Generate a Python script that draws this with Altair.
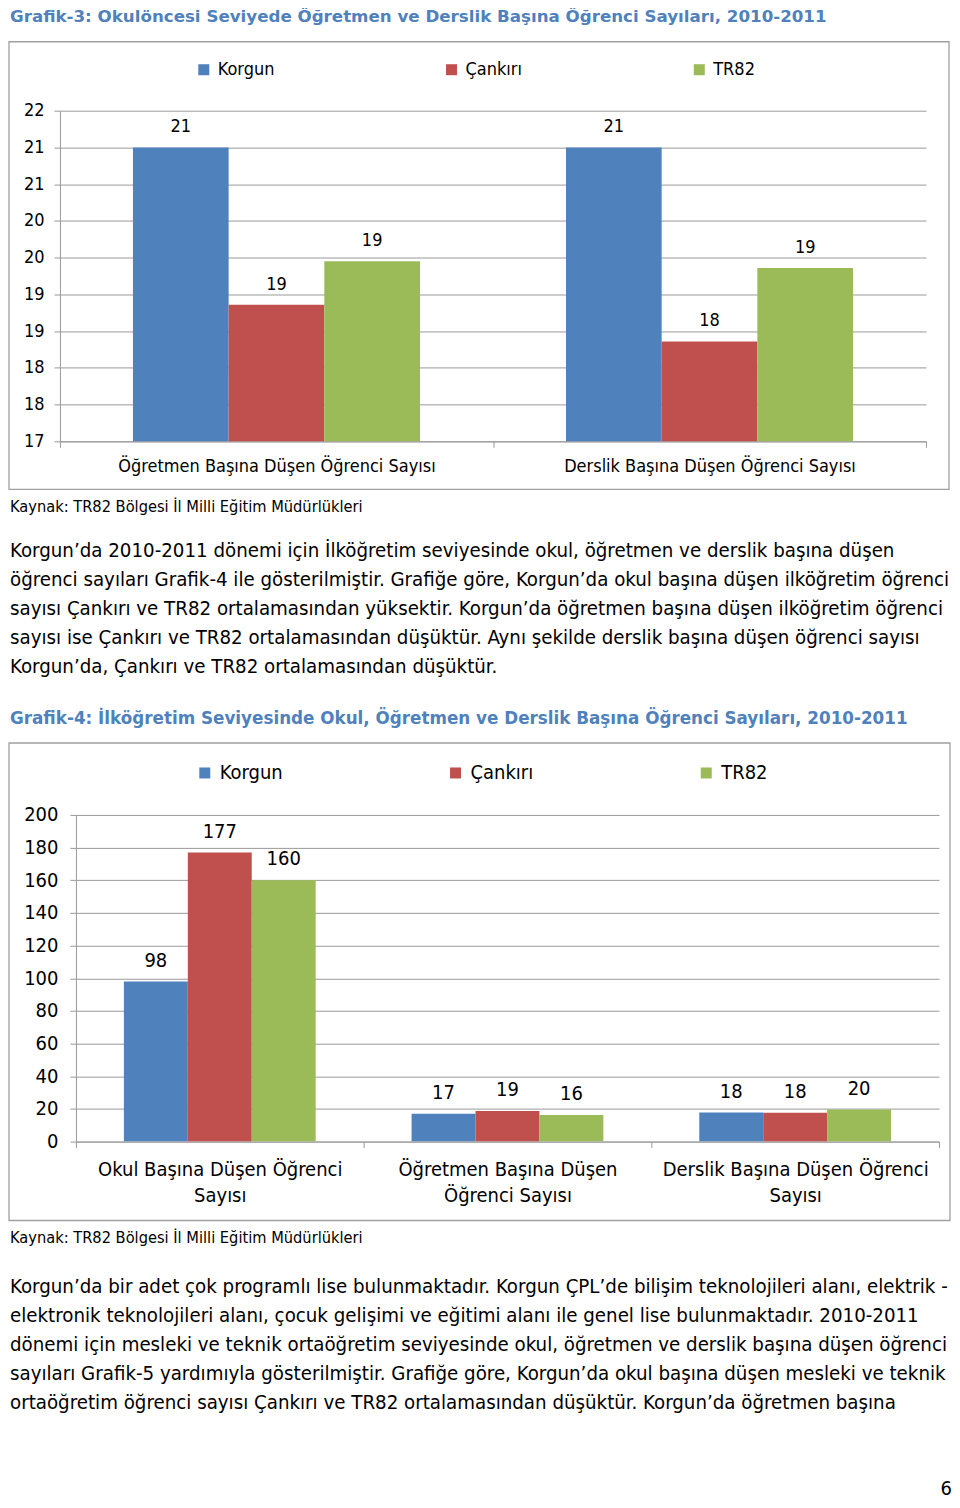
import altair as alt
import pandas as pd

# ---------------- data ----------------
series = ["Korgun", "Çankırı", "TR82"]
colors = ["#4F81BD", "#C0504D", "#9BBB59"]

g3_title = "Grafik-3: Okulöncesi Seviyede Öğretmen ve Derslik Başına Öğrenci Sayıları, 2010-2011"
g3_categories = ["Öğretmen Başına Düşen Öğrenci Sayısı", "Derslik Başına Düşen Öğrenci Sayısı"]
g3_korgun = [21.0, 21.0]
g3_cankiri = [18.86, 18.36]
g3_tr82 = [19.45, 19.36]
g3_ticks = [17, 17.5, 18, 18.5, 19, 19.5, 20, 20.5, 21, 21.5]

g4_title = "Grafik-4: İlköğretim Seviyesinde Okul, Öğretmen ve Derslik Başına Öğrenci Sayıları,  2010-2011"
g4_categories = ["Okul Başına Düşen Öğrenci Sayısı", "Öğretmen Başına Düşen Öğrenci Sayısı",
                 "Derslik Başına Düşen Öğrenci Sayısı"]
g4_label_lines = [["Okul Başına Düşen Öğrenci", "Sayısı"],
                  ["Öğretmen Başına Düşen", "Öğrenci Sayısı"],
                  ["Derslik Başına Düşen Öğrenci", "Sayısı"]]
g4_korgun = [98, 17.0, 17.8]
g4_cankiri = [177, 18.7, 17.7]
g4_tr82 = [160, 16.3, 19.6]
g4_ticks = [0, 20, 40, 60, 80, 100, 120, 140, 160, 180, 200]

source_text = ["Kaynak: TR82 Bölgesi İl Milli Eğitim Müdürlükleri"]

para1 = [
    "Korgun’da 2010-2011 dönemi için İlköğretim seviyesinde okul, öğretmen ve derslik başına düşen",
    "öğrenci sayıları Grafik-4 ile gösterilmiştir. Grafiğe göre, Korgun’da okul başına düşen ilköğretim öğrenci",
    "sayısı Çankırı ve TR82 ortalamasından yüksektir. Korgun’da öğretmen başına düşen ilköğretim öğrenci",
    "sayısı ise Çankırı ve TR82 ortalamasından düşüktür. Aynı şekilde derslik başına düşen öğrenci sayısı",
    "Korgun’da, Çankırı ve TR82 ortalamasından düşüktür.",
]
para2 = [
    "Korgun’da bir adet çok programlı lise bulunmaktadır. Korgun ÇPL’de bilişim teknolojileri alanı, elektrik -",
    "elektronik teknolojileri alanı, çocuk gelişimi ve eğitimi alanı ile genel lise bulunmaktadır. 2010-2011",
    "dönemi için mesleki ve teknik ortaöğretim seviyesinde okul, öğretmen ve derslik başına düşen öğrenci",
    "sayıları Grafik-5 yardımıyla gösterilmiştir. Grafiğe göre, Korgun’da okul başına düşen mesleki ve teknik",
    "ortaöğretim öğrenci sayısı Çankırı ve TR82 ortalamasından düşüktür. Korgun’da öğretmen başına",
]
page_number = ["6"]

# ---------------- styles ----------------
CFONT = "DejaVu Sans Condensed, DejaVu Sans"
TFONT = "DejaVu Sans"
GRID = "#9A9A9A"
FRAME = "#A0A0A0"
TITLE_COLOR = "#4F81BD"
W_TXT = 880
TX = -50          # left edge of text, relative to the common origin


def long_df(cats, k, c, t):
    rows = []
    for i, cat in enumerate(cats):
        for s, vals in zip(series, [k, c, t]):
            rows.append({"cat": cat, "series": s, "value": vals[i]})
    return pd.DataFrame(rows)


def bar_chart(df, cats, ticks, domain, W, H, fs, off_pad, lx, ly, colpad, frame,
              xlab_pad, ylab_pad, lab_dy, label_expr=None, line_h=None,
              x_range=None, y_offset=0, ymin_step=1):
    xaxis_kw = dict(title=None, labelAngle=0, tickBand="extent", domainColor=GRID,
                    tickColor=GRID, tickSize=6, labelFont=CFONT, labelFontSize=fs,
                    labelColor="#000000", labelPadding=xlab_pad, labelLimit=0, grid=False)
    if label_expr is not None:
        xaxis_kw["labelExpr"] = label_expr
        xaxis_kw["labelLineHeight"] = line_h
    xscale_kw = dict(paddingInner=0, paddingOuter=0)
    if x_range is not None:
        xscale_kw["range"] = x_range
    x = alt.X("cat:N", sort=cats, scale=alt.Scale(**xscale_kw), axis=alt.Axis(**xaxis_kw))
    xo = alt.XOffset("series:N", sort=series,
                     scale=alt.Scale(paddingInner=0, paddingOuter=off_pad))
    y = alt.Y("value:Q", scale=alt.Scale(domain=domain, zero=False, nice=False),
              axis=alt.Axis(values=ticks, format=".0f", title=None, grid=True, gridColor=GRID,
                            domainColor=GRID, tickColor=GRID, tickSize=6, labelFont=CFONT,
                            labelFontSize=fs, labelColor="#000000", labelPadding=ylab_pad,
                            labelOverlap=False, tickCount=len(ticks), tickMinStep=ymin_step,
                            offset=y_offset))
    color = alt.Color("series:N", sort=series,
                      scale=alt.Scale(domain=series, range=colors),
                      legend=alt.Legend(orient="none", legendX=lx, legendY=ly,
                                        direction="horizontal", columns=3, gridAlign="all",
                                        columnPadding=colpad, symbolType="square",
                                        symbolSize=121, symbolStrokeWidth=0,
                                        labelFont=CFONT, labelFontSize=fs,
                                        labelColor="#000000", labelOffset=5,
                                        title=None, padding=0))
    base = alt.Chart(df)
    bars = base.mark_bar(clip=True).encode(x=x, xOffset=xo, y=y, color=color)
    labels = base.mark_text(font=CFONT, fontSize=fs, color="#000000", baseline="middle",
                            dy=lab_dy).encode(
        x=x, xOffset=xo, y=y, text=alt.Text("value:Q", format="d"))
    fl, fr, ft, fb = frame
    box = alt.Chart(pd.DataFrame({"f": [0]})).mark_rect(
        fillOpacity=0, stroke=FRAME, strokeWidth=1.3).encode(
        x=alt.value(fl), x2=alt.value(fr), y=alt.value(ft), y2=alt.value(fb))
    return alt.layer(box, bars, labels).properties(width=W, height=H)


def text_block(lines, y0, lh, fs, font=CFONT, weight="normal", color="#000000",
               align="left", x0=TX):
    df = pd.DataFrame({"t": lines, "i": list(range(len(lines)))})
    return alt.Chart(df).mark_text(align=align, baseline="middle", font=font, fontSize=fs,
                                   fontWeight=weight, color=color).encode(
        x=alt.value(x0),
        y=alt.Y("i:Q", scale=alt.Scale(domain=[0, 1], range=[y0, y0 + lh]), axis=None),
        text="t:N")


# ---------------- pieces ----------------
title1 = text_block([g3_title], 8, 29, 16.7, font=TFONT, weight="bold",
                    color=TITLE_COLOR).properties(width=W_TXT, height=32)

df3 = long_df(g3_categories, g3_korgun, g3_cankiri, g3_tr82)
chart3 = bar_chart(df3, g3_categories, g3_ticks, [17, 21.5], 867, 331, 18, 0.763,
                   135, -50, 168, (-51, 890, -69, 379), 10, 10, -20, ymin_step=0.5)

mid = alt.layer(
    text_block(source_text, 17, 29, 16.3),
    text_block(para1, 61, 29, 20.3),
    text_block([g4_title], 229, 29, 16.8, font=TFONT, weight="bold", color=TITLE_COLOR),
).resolve_scale(y="independent").properties(width=W_TXT, height=252)

df4 = long_df(g4_categories, g4_korgun, g4_cankiri, g4_tr82)
expr_parts = []
for cat, ln in zip(g4_categories, g4_label_lines):
    expr_parts.append("datum.value == '%s' ? ['%s', '%s']" % (cat, ln[0], ln[1]))
label_expr4 = " : ".join(expr_parts) + " : datum.label"
chart4 = bar_chart(df4, g4_categories, g4_ticks, [0, 200], 880, 327, 20, 0.75,
                   135, -52, 162, (-51, 891, -72, 406), 12, 12, -21,
                   label_expr=label_expr4, line_h=26, x_range=[16, 880], y_offset=-16)

bottom = alt.layer(
    text_block(source_text, 17, 29, 16.3),
    text_block(para2, 66, 29, 20.3),
    text_block(page_number, 268, 29, 20, align="right", x0=893),
).resolve_scale(y="independent").properties(width=W_TXT, height=276)

chart = alt.concat(title1, chart3, mid, chart4, bottom, columns=1, spacing=0,
                   align="none").resolve_scale(
    x="independent", y="independent", xOffset="independent", color="independent"
).resolve_legend(color="independent").properties(
    padding=0
).configure_view(strokeWidth=0)

chart.save("out.html", embed_options={"renderer": "svg", "actions": False})
